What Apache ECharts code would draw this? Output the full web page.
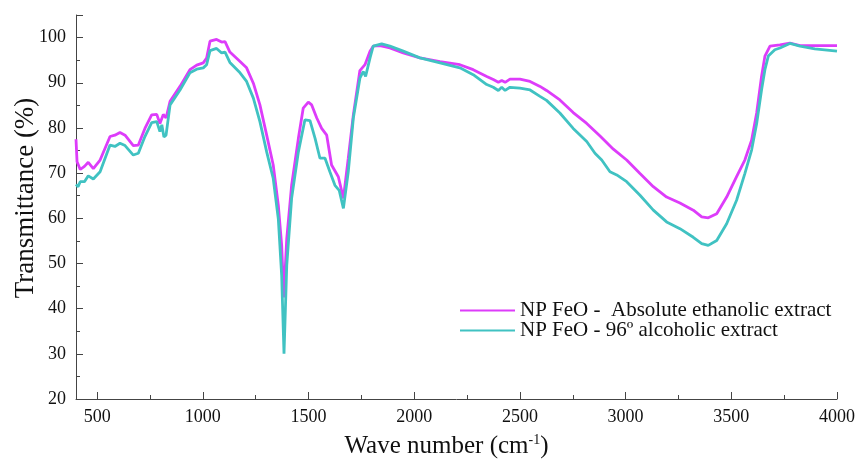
<!DOCTYPE html>
<html>
<head>
<meta charset="utf-8">
<script src="https://cdn.jsdelivr.net/npm/echarts@6/dist/echarts.min.js"></script>
<style>
  html, body { margin: 0; padding: 0; background: #fff; }
  #main { width: 857px; height: 459px; }
</style>
</head>
<body>
<div id="main"></div>
<script>
// series names
var seriesNames = ['NP FeO -  Absolute ethanolic extract', 'NP FeO - 96º alcoholic extract'];

// [wave number, transmittance]
var absoluteData = [
  [400, 77.5], [405, 72.5], [420, 70.8], [440, 71.5], [458, 72.4], [482, 71.0], [514, 72.9],
  [561, 78.1], [584, 78.4], [608, 79.0], [632, 78.4], [671, 76.1], [695, 76.2], [726, 79.9],
  [758, 82.9], [782, 83.0], [797, 81.0], [813, 83.0], [826, 82.2], [845, 85.9], [892, 89.2],
  [939, 92.9], [971, 93.9], [1002, 94.4], [1018, 95.5], [1034, 99.2], [1065, 99.6], [1089, 99.0],
  [1105, 99.1], [1128, 96.8], [1176, 94.7], [1207, 93.3], [1239, 89.9], [1270, 85.1], [1302, 78.4],
  [1333, 71.8], [1357, 62.9], [1373, 54.0], [1383, 42.5], [1397, 55.5], [1420, 67.3], [1452, 77.7],
  [1475, 84.4], [1499, 85.7], [1515, 85.1], [1539, 82.2], [1562, 79.9], [1586, 78.4], [1609, 71.8],
  [1641, 69.2], [1665, 64.4], [1688, 73.3], [1712, 82.9], [1743, 92.7], [1767, 94.0], [1791, 97.0],
  [1806, 98.1], [1838, 98.2], [1885, 97.7], [1948, 96.6], [2027, 95.5], [2122, 94.7], [2216, 94.0],
  [2279, 92.9], [2343, 91.4], [2374, 90.7], [2398, 90.1], [2414, 90.5], [2430, 90.1], [2453, 90.8],
  [2500, 90.8], [2548, 90.3], [2595, 89.2], [2626, 88.3], [2689, 86.2], [2752, 83.4], [2816, 81.0],
  [2879, 78.2], [2942, 75.3], [3005, 72.9], [3068, 69.9], [3131, 67.0], [3194, 64.7], [3257, 63.4],
  [3320, 61.8], [3360, 60.3], [3391, 60.1], [3431, 61.0], [3478, 64.7], [3525, 69.2], [3564, 72.9],
  [3596, 77.3], [3620, 83.3], [3643, 91.4], [3659, 95.9], [3683, 98.1], [3730, 98.4], [3777, 98.8],
  [3825, 98.2], [3895, 98.2], [4000, 98.2]
];

var alcoholData = [
  [400, 67.5], [410, 67.0], [420, 68.1], [440, 68.1], [458, 69.4], [482, 68.7], [514, 70.3],
  [561, 76.2], [584, 75.9], [608, 76.6], [632, 76.1], [671, 74.0], [695, 74.4], [726, 78.1],
  [758, 81.2], [782, 81.4], [797, 79.2], [806, 80.7], [816, 78.0], [826, 78.4], [845, 85.1],
  [892, 88.4], [939, 92.2], [971, 93.0], [1002, 93.3], [1018, 94.0], [1034, 97.1], [1065, 97.6],
  [1089, 96.6], [1105, 96.8], [1128, 94.5], [1176, 92.2], [1207, 90.3], [1239, 86.6], [1270, 81.4],
  [1302, 74.7], [1333, 68.8], [1357, 59.9], [1373, 47.3], [1384, 30.0], [1397, 49.6], [1420, 64.4],
  [1452, 74.7], [1483, 81.8], [1507, 81.6], [1531, 77.7], [1554, 73.3], [1578, 73.3], [1601, 70.3],
  [1625, 67.3], [1645, 66.2], [1665, 62.2], [1688, 70.3], [1712, 82.2], [1743, 91.0], [1759, 92.5],
  [1770, 91.4], [1791, 95.5], [1806, 98.1], [1846, 98.6], [1885, 98.1], [1948, 97.0], [2027, 95.5],
  [2122, 94.4], [2216, 93.3], [2279, 91.8], [2343, 89.6], [2374, 89.0], [2398, 88.3], [2414, 89.0],
  [2430, 88.3], [2453, 89.0], [2500, 88.8], [2548, 88.4], [2595, 87.0], [2626, 86.1], [2689, 83.3],
  [2752, 79.9], [2816, 77.0], [2855, 74.4], [2887, 72.9], [2926, 70.3], [2958, 69.6], [3005, 68.1],
  [3068, 65.1], [3131, 61.8], [3194, 59.2], [3257, 57.7], [3320, 55.8], [3360, 54.4], [3391, 54.0],
  [3431, 55.1], [3478, 58.8], [3525, 64.0], [3564, 69.9], [3596, 75.1], [3620, 81.0], [3643, 88.4],
  [3659, 92.9], [3675, 95.9], [3706, 97.3], [3730, 97.7], [3777, 98.7], [3825, 98.1], [3895, 97.5],
  [4000, 97.0]
];

var serif = 'Liberation Serif';

var myChart = echarts.init(document.getElementById('main'));

var option = {
  animation: false,
  backgroundColor: '#fff',
  textStyle: { fontFamily: serif },
  grid: { left: 76, right: 20, top: 15, bottom: 60, containLabel: false, outerBoundsMode: 'none' },
  legend: {
    orient: 'vertical',
    left: 454,
    top: 295,
    itemWidth: 55,
    itemHeight: 14,
    itemGap: -1,
    itemStyle: { opacity: 0 },
    textStyle: { fontFamily: serif, fontSize: 21, color: '#111' },
    data: seriesNames
  },
  xAxis: {
    type: 'value',
    min: 400,
    max: 4000,
    splitNumber: 7,
    name: '{n|Wave number (cm}{s|-1}{n|)}',
    nameLocation: 'middle',
    nameGap: 34,
    nameTextStyle: {
      padding: [0, 20, 0, 0],
      rich: {
        n: { fontFamily: serif, fontSize: 25, color: '#111' },
        s: { fontFamily: serif, fontSize: 14, color: '#111', padding: [0, 0, 12, 0] }
      }
    },
    axisLine: { show: true, onZero: false, lineStyle: { color: '#444', width: 1 } },
    axisTick: { show: true, inside: true, length: 7, lineStyle: { color: '#444' } },
    minorTick: { show: true, splitNumber: 2, length: 4, lineStyle: { color: '#444' } },
    axisLabel: {
      showMinLabel: false, margin: 9, fontFamily: serif, fontSize: 18, color: '#111',
      formatter: function (v) { return String(v); }
    },
    splitLine: { show: false }
  },
  yAxis: {
    type: 'value',
    min: 20,
    max: 105,
    interval: 10,
    name: 'Transmittance (%)',
    nameLocation: 'middle',
    nameGap: 37,
    nameMoveOverlap: false,
    nameTextStyle: { fontFamily: serif, fontSize: 27, color: '#111', padding: [0, 0, 0, 18] },
    axisLine: { show: true, lineStyle: { color: '#444', width: 1 } },
    axisTick: { show: true, inside: true, length: 7, lineStyle: { color: '#444' } },
    minorTick: { show: true, splitNumber: 2, length: 4, lineStyle: { color: '#444' } },
    axisLabel: {
      showMaxLabel: false, margin: 10, fontFamily: serif, fontSize: 18, color: '#111',
      formatter: function (v) { return String(v); }
    },
    splitLine: { show: false }
  },
  series: [
    {
      name: seriesNames[0],
      type: 'line',
      symbol: 'none',
      data: absoluteData,
      color: '#dd3cfa',
      lineStyle: { width: 2.8, color: '#dd3cfa' }
    },
    {
      name: seriesNames[1],
      type: 'line',
      symbol: 'none',
      data: alcoholData,
      color: '#40c2c2',
      lineStyle: { width: 2.8, color: '#40c2c2' }
    }
  ]
};

myChart.setOption(option);
</script>
</body>
</html>
